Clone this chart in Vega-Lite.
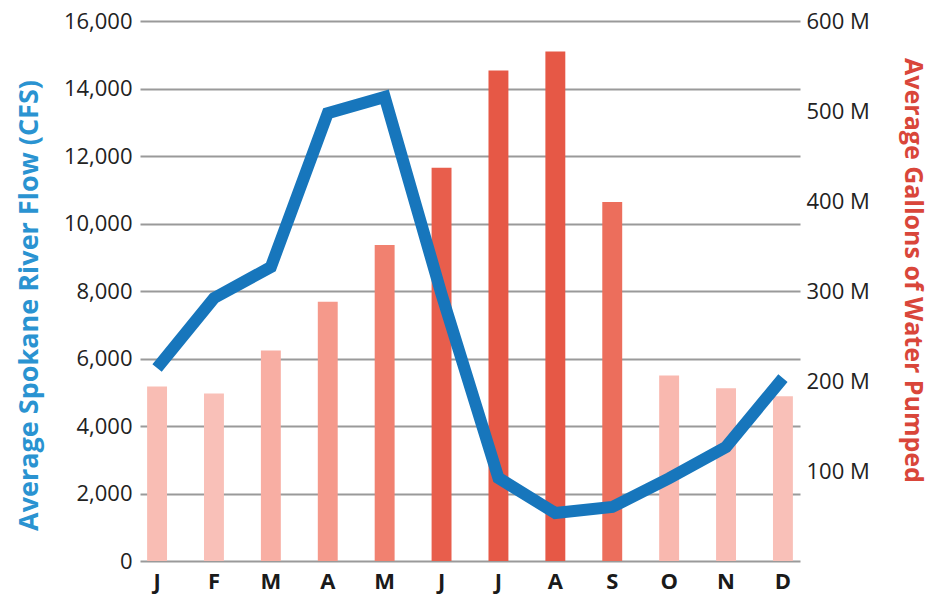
{
  "$schema": "https://vega.github.io/schema/vega-lite/v6.json",
  "autosize": {"type": "none"},
  "padding": {"left": 140, "top": 21, "right": 133, "bottom": 38},
  "width": 660,
  "height": 540,
  "background": "white",
  "config": {
    "font": "Open Sans",
    "view": {"stroke": null}
  },
  "data": {
    "values": [
      {"month": "Jan", "flow": 5720, "gallons": 194},
      {"month": "Feb", "flow": 7790, "gallons": 186},
      {"month": "Mar", "flow": 8710, "gallons": 234},
      {"month": "Apr", "flow": 13270, "gallons": 288},
      {"month": "May", "flow": 13750, "gallons": 351},
      {"month": "Jun", "flow": 7900, "gallons": 437},
      {"month": "Jul", "flow": 2460, "gallons": 545},
      {"month": "Aug", "flow": 1420, "gallons": 566},
      {"month": "Sep", "flow": 1600, "gallons": 399},
      {"month": "Oct", "flow": 2450, "gallons": 206},
      {"month": "Nov", "flow": 3380, "gallons": 192},
      {"month": "Dec", "flow": 5420, "gallons": 183}
    ]
  },
  "encoding": {
    "x": {
      "field": "month",
      "type": "nominal",
      "sort": null,
      "scale": {"paddingInner": 0.65, "paddingOuter": 0.125},
      "axis": {
        "title": null,
        "domain": false,
        "ticks": false,
        "labelAngle": 0,
        "labelExpr": "substring(datum.label, 0, 1)",
        "labelFont": "Open Sans",
        "labelFontWeight": "bold",
        "labelFontSize": 22,
        "labelColor": "#1a1a1a",
        "labelPadding": 10
      }
    }
  },
  "layer": [
    {
      "mark": {"type": "bar"},
      "encoding": {
        "y": {
          "field": "gallons",
          "type": "quantitative",
          "scale": {"domain": [0, 600], "nice": false},
          "axis": {
            "orient": "right",
            "title": "Average Gallons of Water Pumped",
            "titleColor": "#d9463a",
            "titleFontSize": 25,
            "titleFontWeight": "bold",
            "titlePadding": 30,
            "titleY": 249,
            "values": [0, 100, 200, 300, 400, 500, 600],
            "labelExpr": "datum.value == 0 ? '' : datum.label + ' M'",
            "labelFontSize": 22,
            "labelColor": "#222222",
            "labelPadding": 6,
            "domain": false,
            "ticks": false,
            "grid": false
          }
        },
        "color": {
          "field": "gallons",
          "type": "quantitative",
          "scale": {"domain": [185, 450], "range": ["#f9c0b8", "#e65846"], "clamp": true},
          "legend": null
        }
      }
    },
    {
      "mark": {"type": "line", "color": "#1776bc", "strokeWidth": 12, "strokeJoin": "miter", "strokeCap": "butt"},
      "encoding": {
        "y": {
          "field": "flow",
          "type": "quantitative",
          "scale": {"domain": [0, 16000], "nice": false},
          "axis": {
            "orient": "left",
            "title": "Average Spokane River Flow (CFS)",
            "titleColor": "#2a93d1",
            "titleFontSize": 27,
            "titleFontWeight": "bold",
            "titlePadding": 20,
            "titleY": 284,
            "values": [0, 2000, 4000, 6000, 8000, 10000, 12000, 14000, 16000],
            "format": ",.0f",
            "labelFontSize": 22,
            "labelColor": "#222222",
            "labelPadding": 8,
            "domain": false,
            "ticks": false,
            "grid": true,
            "gridColor": "#9a9a9a",
            "gridWidth": 2
          }
        }
      }
    }
  ],
  "resolve": {"scale": {"y": "independent"}}
}
